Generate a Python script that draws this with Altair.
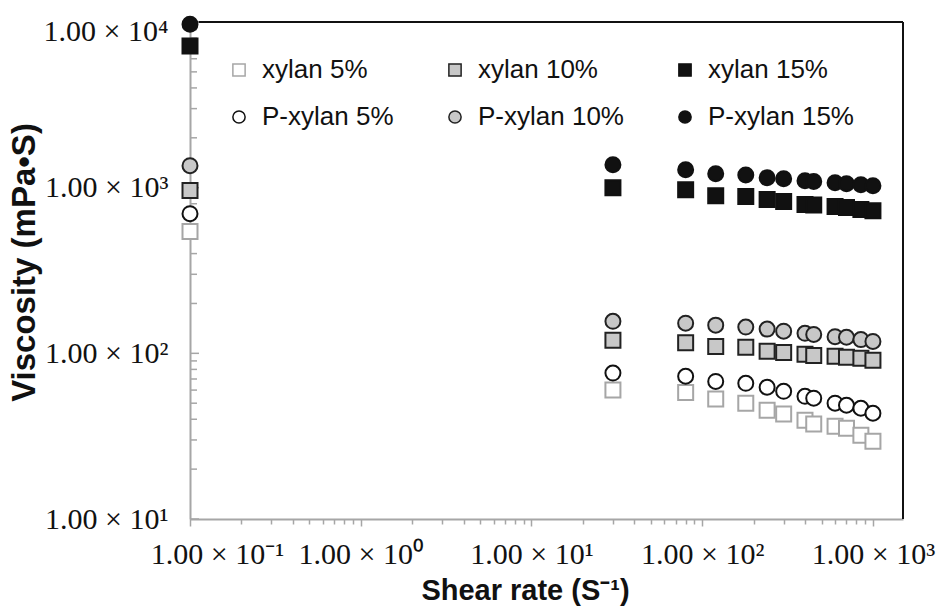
import altair as alt
import pandas as pd

# ---- data ----
shear_rate = [0.1, 30, 80, 120, 180, 240, 300, 400, 450, 600, 700, 850, 1000]

series_names = ["xylan 5%", "xylan 10%", "xylan 15%",
                "P-xylan 5%", "P-xylan 10%", "P-xylan 15%"]

xylan_5 = [543, 60, 58, 53, 50, 45.4, 43, 39.5, 37.5, 36.3, 35.3, 32, 29.5]
xylan_10 = [960, 120, 116, 110, 109, 103, 101, 98.6, 97, 96, 94.7, 93.3, 90.8]
xylan_15 = [7160, 1000, 972, 895, 883, 847, 824, 791, 785, 769, 758, 737, 726]
pxylan_5 = [697, 76, 72.7, 67.7, 65.9, 62.4, 59, 55, 53.6, 50, 48.6, 46.6, 43.5]
pxylan_10 = [1358, 156, 152, 148, 144, 140, 136, 132, 130, 126, 125, 121, 118]
pxylan_15 = [9700, 1377, 1282, 1213, 1193, 1148, 1133, 1102, 1088, 1072, 1057, 1042, 1028]

series_values = [xylan_5, xylan_10, xylan_15, pxylan_5, pxylan_10, pxylan_15]

x_major_ticks = [0.1, 1, 10, 100, 1000]
x_minor_ticks = [0.2, 0.3, 0.4, 0.5, 0.6, 0.7, 0.8, 0.9,
                 2, 3, 4, 5, 6, 7, 8, 9,
                 20, 30, 40, 50, 60, 70, 80, 90,
                 200, 300, 400, 500, 600, 700, 800, 900]
x_tick_labels = ["1.00 × 10⁻¹", "1.00 × 10⁰", "1.00 × 10¹", "1.00 × 10²", "1.00 × 10³"]

y_major_ticks = [10, 100, 1000, 10000]
y_minor_ticks = [20, 30, 40, 50, 60, 70, 80, 90,
                 200, 300, 400, 500, 600, 700, 800, 900,
                 2000, 3000, 4000, 5000, 6000, 7000, 8000, 9000]
y_tick_labels = ["1.00 × 10¹", "1.00 × 10²", "1.00 × 10³", "1.00 × 10⁴"]

# ---- styles ----
style = {
    "xylan 5%": ("square", "#ffffff", "#a6a6a6"),
    "xylan 10%": ("square", "#c8c8c8", "#222222"),
    "xylan 15%": ("square", "#111111", "#111111"),
    "P-xylan 5%": ("circle", "#ffffff", "#111111"),
    "P-xylan 10%": ("circle", "#c8c8c8", "#222222"),
    "P-xylan 15%": ("circle", "#111111", "#111111"),
}
# legend is filled column by column (2 rows x 3 columns)
legend_order = ["xylan 5%", "P-xylan 5%", "xylan 10%", "P-xylan 10%", "xylan 15%", "P-xylan 15%"]
AXIS_GRAY = "#a6a6a6"
PLOT_W, PLOT_H = 713, 497

rows = []
for name, vals in zip(series_names, series_values):
    for x, y in zip(shear_rate, vals):
        rows.append({"series": name, "shear": x, "visc": y})
df = pd.DataFrame(rows)


def label_expr(values, labels):
    parts = [f"datum.value == {v} ? '{l}'" for v, l in zip(values, labels)]
    return " : ".join(parts) + " : ''"


x_scale = alt.Scale(type="log", domain=[0.1, 1500], nice=False)
y_scale = alt.Scale(type="log", domain=[10, 10000], nice=False)
x_major_str = ",".join(str(v) for v in x_major_ticks)

x_axis = alt.Axis(
    values=x_major_ticks + x_minor_ticks,
    labelExpr=label_expr(x_major_ticks, x_tick_labels),
    tickSize={"condition": {"test": f"indexof([{x_major_str}], datum.value) >= 0", "value": 7}, "value": 5},
    tickColor=AXIS_GRAY, tickWidth=1.5,
    domainColor=AXIS_GRAY, domainWidth=2,
    labelFont="Liberation Serif", labelFontSize=30, labelColor="#111111",
    labelPadding=13, labelOverlap=False, labelFlush=False, labelBound=False,
    labelOffset={"condition": {"test": "datum.value < 0.5", "value": 27}, "value": 0},
    grid=False,
    title="Shear rate (S⁻¹)", titleFont="Liberation Sans", titleFontWeight="bold",
    titleFontSize=29, titleColor="#111111", titleX=335, titleY=80,
    titleBaseline="alphabetic",
)

y_axis = alt.Axis(
    values=y_major_ticks,
    labelExpr=label_expr(y_major_ticks, y_tick_labels),
    ticks=False, tickSize=0,
    domainColor=AXIS_GRAY, domainWidth=2,
    labelFont="Liberation Serif", labelFontSize=30, labelColor="#111111",
    labelPadding=22, labelOverlap=False, labelFlush=False, labelBound=False,
    labelBaseline={"condition": {"test": "datum.value >= 10000", "value": "top"}, "value": "middle"},
    labelOffset={"condition": {"test": "datum.value >= 10000", "value": -6}, "value": 0},
    grid=False,
    title="Viscosity (mPa•S)", titleFont="Liberation Sans", titleFontWeight="bold",
    titleFontSize=33, titleColor="#111111", titleX=-156, titleY=240,
    titleBaseline="alphabetic", titleAngle=270,
)

legend = alt.Legend(
    title=None, orient="none", legendX=36, legendY=35, columns=3,
    columnPadding=48, rowPadding=21, padding=0,
    labelFont="Liberation Sans", labelFontSize=26, labelColor="#111111",
    symbolSize=150, symbolStrokeWidth=1.5, labelOffset=10, labelLimit=0,
)

points = alt.Chart(df).mark_point(filled=True, opacity=1, size=225, strokeWidth=2).encode(
    x=alt.X("shear:Q", scale=x_scale, axis=x_axis),
    y=alt.Y("visc:Q", scale=y_scale, axis=y_axis),
    shape=alt.Shape("series:N", scale=alt.Scale(domain=legend_order, range=[style[s][0] for s in legend_order]), legend=legend),
    fill=alt.Fill("series:N", scale=alt.Scale(domain=legend_order, range=[style[s][1] for s in legend_order]), legend=legend),
    stroke=alt.Stroke("series:N", scale=alt.Scale(domain=legend_order, range=[style[s][2] for s in legend_order]), legend=legend),
)

ytick_minor = alt.Chart(pd.DataFrame({"visc": y_minor_ticks})).mark_rule(
    color=AXIS_GRAY, strokeWidth=1.5
).encode(
    y=alt.Y("visc:Q", scale=y_scale, axis=y_axis),
    x=alt.value(0), x2=alt.value(7),
)

ytick_major = alt.Chart(pd.DataFrame({"visc": y_major_ticks})).mark_rule(
    color=AXIS_GRAY, strokeWidth=1.5
).encode(
    y=alt.Y("visc:Q", scale=y_scale, axis=y_axis),
    x=alt.value(0), x2=alt.value(9),
)

# black frame lines on the top and right edges of the plot area
frame_top = alt.Chart().mark_rule(color="#111111", strokeWidth=2).encode(
    x=alt.value(0), x2=alt.value(PLOT_W), y=alt.value(0)
)
frame_right = alt.Chart().mark_rule(color="#111111", strokeWidth=2).encode(
    x=alt.value(PLOT_W), y=alt.value(0), y2=alt.value(PLOT_H)
)

chart = alt.layer(frame_top, frame_right, ytick_minor, ytick_major, points).properties(
    width=PLOT_W, height=PLOT_H,
    padding={"left": 190, "top": 22, "right": 38, "bottom": 91},
    autosize=alt.AutoSizeParams(type="none"),
    background="white",
).configure_view(stroke=None)

chart.save("out.html", embed_options={"renderer": "svg", "actions": False})
